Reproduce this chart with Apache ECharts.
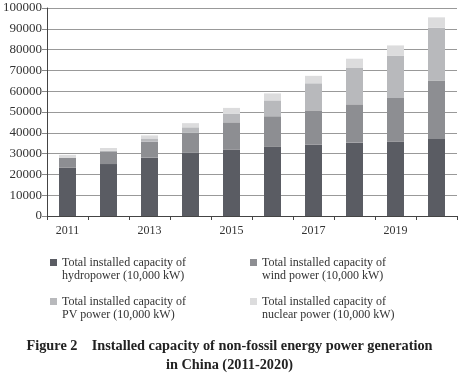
<!DOCTYPE html>
<html><head><meta charset="utf-8">
<script src="https://cdn.jsdelivr.net/npm/echarts@6/dist/echarts.min.js"></script>
<style>html,body{margin:0;padding:0;background:#fff}#c{width:459px;height:374px}</style>
</head><body><div id="c"></div>
<script>
const years = ['2011','2012','2013','2014','2015','2016','2017','2018','2019','2020'];
const hydro = [23298, 24947, 28044, 30486, 31954, 33207, 34411, 35259, 35804, 37016];
const wind = [4623, 6142, 7652, 9657, 13075, 14747, 16367, 18427, 20915, 28153];
const pv = [212, 341, 1589, 2486, 4218, 7631, 13025, 17463, 20418, 25343];
const nuclear = [1257, 1257, 1466, 2008, 2717, 3364, 3582, 4466, 4874, 4989];
const seriesNames = [
  'Total installed capacity of\nhydropower (10,000 kW)',
  'Total installed capacity of\nwind power (10,000 kW)',
  'Total installed capacity of\nPV power (10,000 kW)',
  'Total installed capacity of\nnuclear power (10,000 kW)'
];
const titleLines = ['Figure 2    Installed capacity of non-fossil energy power generation', 'in China (2011-2020)'];
const colors = ['#5a5c63', '#8d8e92', '#b8b9bc', '#dcdcdd'];
const font = '"Liberation Serif", "DejaVu Serif", serif';
const chart = echarts.init(document.getElementById('c'));
const values = [hydro, wind, pv, nuclear];
const legendPos = [[50, 243], [250, 243], [50, 282], [250, 282]];
chart.setOption({
  animation: false,
  textStyle: {fontFamily: font},
  grid: {left: 46, right: 2, top: 8, bottom: 158, containLabel: false},
  title: titleLines.map((t, i) => ({
    text: t, left: 'center', top: 339 + i * 19, padding: 0,
    textStyle: {fontFamily: font, fontWeight: 'bold', fontSize: 14.3, color: '#222'}
  })),
  legend: legendPos.map((p, i) => ({
    data: [seriesNames[i]],
    left: p[0], top: p[1],
    icon: 'rect',
    itemWidth: 7, itemHeight: 7, itemGap: 5,
    padding: 0,
    selectedMode: false,
    formatter: name => ' \n' + name,
    textStyle: {fontFamily: font, fontSize: 12, lineHeight: 13, color: '#333'}
  })),
  xAxis: {
    type: 'category', data: years,
    axisLine: {lineStyle: {color: '#444', width: 1}},
    axisTick: {show: true, interval: 0, length: 4, lineStyle: {color: '#444'}},
    axisLabel: {interval: 1, fontFamily: font, fontSize: 12, color: '#333', margin: 9}
  },
  yAxis: {
    type: 'value', min: 0, max: 100000, interval: 10000,
    axisLine: {show: true, lineStyle: {color: '#444', width: 1}},
    axisTick: {show: true, length: 5, lineStyle: {color: '#888'}},
    axisLabel: {fontFamily: font, fontSize: 13, color: '#333', margin: 5, formatter: v => String(v)},
    splitLine: {lineStyle: {color: '#999', width: 1}}
  },
  series: values.map((v, i) => ({
    name: seriesNames[i], type: 'bar', stack: 'total', data: v,
    barWidth: 17, itemStyle: {color: colors[i]}
  }))
});
</script></body></html>
